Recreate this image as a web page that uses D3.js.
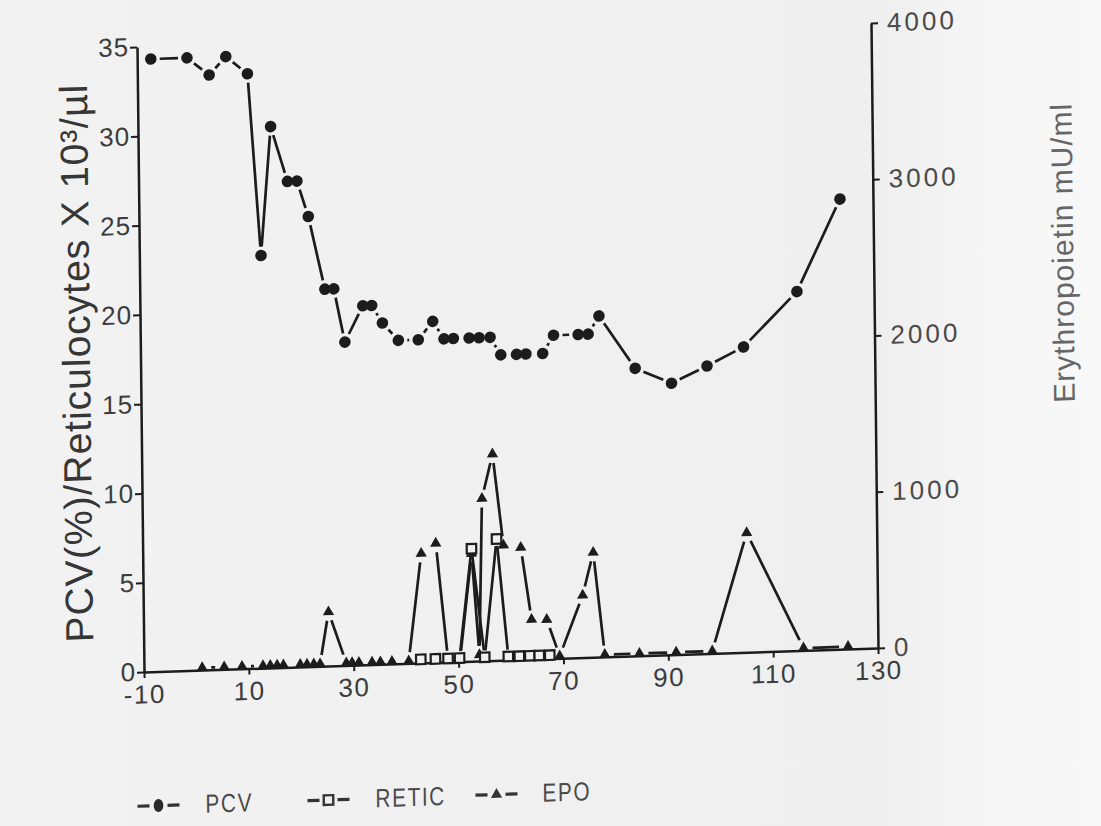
<!DOCTYPE html>
<html><head><meta charset="utf-8">
<script src="https://cdn.jsdelivr.net/npm/d3@7/dist/d3.min.js"></script>
<style>
html,body{margin:0;padding:0;background:#f0f0f0;}
svg{display:block;}
</style></head><body>
<svg id="chart" width="1101" height="826"></svg>
<script>
// ---------------- data ----------------
const pcvDays   = [-7.4,-0.5,3.7,6.9,11.0,13.2,15.3,18.4,20.2,22.3,25.3,27.0,29.0,32.5,34.2,36.2,39.2,43.0,45.8,47.9,49.7,52.7,54.6,56.7,58.7,61.7,63.5,66.7,68.8,73.5,75.4,77.5,84.3,91.2,98.0,105.0,115.3,123.7];
const pcvValues = [34.3,34.3,33.3,34.3,33.3,23.1,30.3,27.2,27.2,25.2,21.1,21.1,18.1,20.1,20.1,19.1,18.1,18.1,19.1,18.1,18.1,18.1,18.1,18.1,17.1,17.1,17.1,17.1,18.1,18.1,18.1,19.1,16.1,15.2,16.1,17.1,20.1,25.2];

const reticDays   = [42.8,45.6,48.0,50.2,52.7,55.0,57.5,59.5,61.6,63.6,65.4,67.4];
const reticValues = [0.2,0.2,0.2,0.2,6.3,0.2,6.8,0.2,0.2,0.2,0.2,0.2];

const epoDays   = [1.1,5.3,8.7,12.7,14.1,15.4,16.6,19.8,21.1,22.4,23.6,25.3,28.6,29.7,31.0,33.5,35.1,37.3,40.5,43.1,45.9,48.0,50.3,52.7,54.0,54.8,56.9,58.8,62.1,64.0,66.9,69.3,73.8,75.9,77.9,84.5,91.5,98.4,105.2,115.8,124.3];
const epoValues = [15,15,15,15,15,15,15,15,15,15,15,346,15,15,15,15,15,15,15,700,762,15,15,690,40,1039,1321,736,718,255,251,15,399,671,15,15,15,15,764,15,15];

const xTicks     = [-10,10,30,50,70,90,110,130];
const leftTicks  = [0,5,10,15,20,25,30,35];
const rightTicks = [0,1000,2000,3000,4000];
const seriesNames = ["PCV","RETIC","EPO"];
const leftTitle  = "PCV(%)/Reticulocytes X 10\u00B3/\u00B5l";
const rightTitle = "Erythropoietin mU/ml";

// ---------------- layout ----------------
const W = 734, H = 625;
const INK = "#1c1c1c";
const BG = "#f0f0f0";
const svg = d3.select("#chart");
const defs = svg.append("defs");
const grad = defs.append("linearGradient").attr("id","bg").attr("x1","0").attr("x2","1").attr("y1","0").attr("y2","0");
grad.append("stop").attr("offset","0").attr("stop-color","#f2f2f2");
grad.append("stop").attr("offset","0.8").attr("stop-color","#efefef");
grad.append("stop").attr("offset","0.9").attr("stop-color","#f6f6f6");
grad.append("stop").attr("offset","1").attr("stop-color","#f8f8f8");
svg.append("rect").attr("width",1101).attr("height",826).attr("fill","url(#bg)");

// the scanned figure is slightly rotated/sheared
const g = svg.append("g").attr("transform","matrix(1,-0.0327,0.0112,1,137,47)");

const x  = d3.scaleLinear().domain([-10,130]).range([0,W]);
const yL = d3.scaleLinear().domain([0,35]).range([H,0]);
const yR = d3.scaleLinear().domain([0,4000]).range([H,0]);

function styleAxis(sel){
  sel.select(".domain").attr("stroke",INK).attr("stroke-width",2.5);
  sel.selectAll(".tick line").attr("stroke",INK).attr("stroke-width",2);
  sel.selectAll(".tick text").attr("fill","#3c3c3c")
     .style("font-family","'Liberation Sans',Arial,sans-serif").style("font-size","26px");
}

const gx = g.append("g").attr("transform",`translate(0,${H})`)
  .call(d3.axisBottom(x).tickValues(xTicks).tickSize(6).tickSizeOuter(0).tickPadding(7).tickFormat(d=>String(d)));
styleAxis(gx);
gx.selectAll(".tick text").style("letter-spacing","1.5px");

const gl = g.append("g")
  .call(d3.axisLeft(yL).tickValues(leftTicks).tickSize(7).tickSizeOuter(0).tickPadding(1).tickFormat(d=>String(d)));
styleAxis(gl);
gl.selectAll(".tick text").style("letter-spacing","1px");

const gr = g.append("g").attr("transform",`translate(${W},0)`)
  .call(d3.axisRight(yR).tickValues(rightTicks).tickSize(7).tickSizeOuter(0).tickPadding(9).tickFormat(d=>String(d)));
styleAxis(gr);
gr.selectAll(".tick text").style("letter-spacing","3px").attr("fill","#4a4a4a");

// axis titles
g.append("text").attr("transform","translate(-64,314) rotate(-90)")
  .attr("text-anchor","middle").attr("dominant-baseline","central")
  .style("font-family","'Liberation Sans',Arial,sans-serif").style("font-size","39px")
  .style("letter-spacing","1px").attr("fill","#363636").text(leftTitle);
g.append("text").attr("transform","translate(923,236) rotate(-90)")
  .attr("text-anchor","middle").attr("dominant-baseline","central")
  .style("font-family","'Liberation Sans',Arial,sans-serif").style("font-size","30px")
  .style("letter-spacing","1px").attr("fill","#666").text(rightTitle);

// ---------------- series ----------------
function gapped(points, gap){
  const segs = [];
  for(let i=0;i<points.length-1;i++){
    const [x1,y1] = points[i], [x2,y2] = points[i+1];
    const dx = x2-x1, dy = y2-y1, L = Math.hypot(dx,dy);
    if(L <= 2*gap+1) continue;
    const ux = dx/L, uy = dy/L;
    segs.push([[x1+ux*gap,y1+uy*gap],[x2-ux*gap,y2-uy*gap]]);
  }
  return segs;
}
const line = d3.line();

const pcvPts   = pcvDays.map((d,i)=>[x(d), yL(pcvValues[i])]);
const reticPts = reticDays.map((d,i)=>[x(d), yL(reticValues[i])]);
const epoPts   = epoDays.map((d,i)=>[x(d), yR(epoValues[i])]);

function drawLines(pts, gap){
  g.append("g").selectAll("path").data(gapped(pts,gap)).join("path")
    .attr("d",line).attr("fill","none").attr("stroke",INK)
    .attr("stroke-width",2.7).attr("stroke-linecap","butt");
}
drawLines(epoPts, 9);
drawLines(reticPts, 7);
drawLines(pcvPts, 9);

const triangle = d3.symbol().type(d3.symbolTriangle).size(55);
const square   = d3.symbol().type(d3.symbolSquare).size(90);

g.append("g").selectAll("path").data(epoPts).join("path")
  .attr("transform",d=>`translate(${d[0]},${d[1]})`).attr("d",triangle).attr("fill",INK);

g.append("g").selectAll("path").data(reticPts).join("path")
  .attr("transform",d=>`translate(${d[0]},${d[1]})`).attr("d",square)
  .attr("fill",BG).attr("stroke",INK).attr("stroke-width",2.2);

g.append("g").selectAll("circle").data(pcvPts).join("circle")
  .attr("cx",d=>d[0]).attr("cy",d=>d[1]).attr("r",5.8).attr("fill",INK);

// ---------------- legend ----------------
const legY = 759;
const legendItems = [
  {name:seriesNames[0], sx:13,  tx:60},
  {name:seriesNames[1], sx:183, tx:230},
  {name:seriesNames[2], sx:351, tx:397}
];
const lg = g.append("g");
legendItems.forEach((it,i)=>{
  const c = lg.append("g").attr("transform",`translate(${it.sx},${legY})`);
  c.append("line").attr("x1",-21).attr("x2",-9).attr("stroke","#333").attr("stroke-width",3.2);
  c.append("line").attr("x1",9).attr("x2",21).attr("stroke","#333").attr("stroke-width",3.2);
  if(i===0) c.append("ellipse").attr("rx",4.8).attr("ry",6.5).attr("fill","#2a2a2a");
  if(i===1) c.append("path").attr("d",square).attr("fill",BG).attr("stroke","#333").attr("stroke-width",2.4);
  if(i===2) c.append("path").attr("d",triangle).attr("fill","#333");
  lg.append("text").attr("transform",`translate(${it.tx},${legY}) scale(0.8,1)`)
    .attr("dominant-baseline","central")
    .style("font-family","'Liberation Sans',Arial,sans-serif").style("font-size","26px")
    .style("letter-spacing","2px").attr("fill","#4a4a4a").text(it.name);
});
</script>
</body></html>
